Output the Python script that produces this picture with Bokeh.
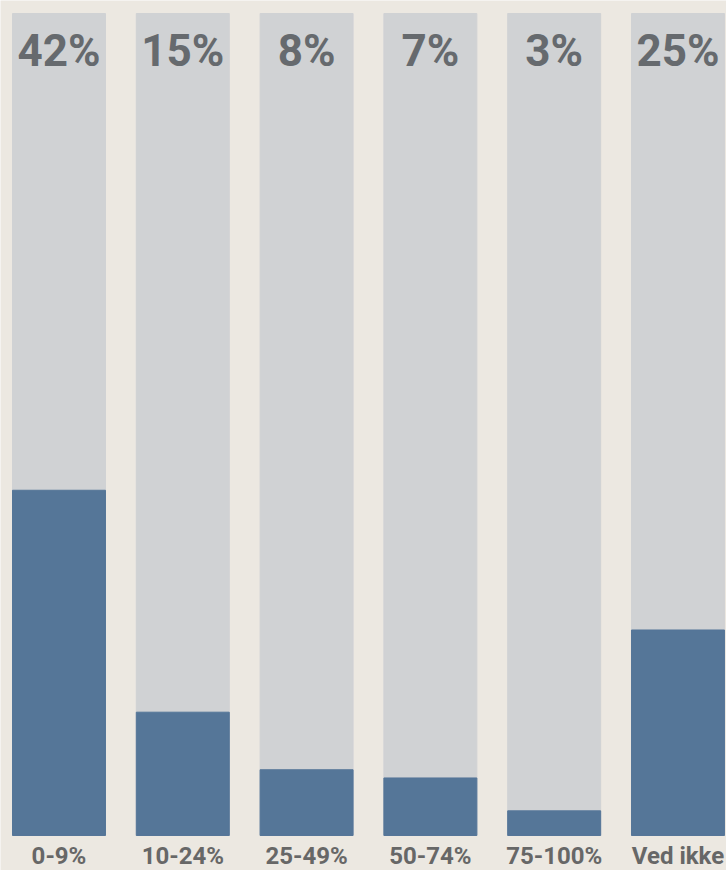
from bokeh.plotting import figure
from bokeh.models import ColumnDataSource, Range1d
from bokeh.core.properties import value
from bokeh.embed import file_html
from bokeh.resources import INLINE

categories = ["0-9%", "10-24%", "25-49%", "50-74%", "75-100%", "Ved ikke"]
shares = [42, 15, 8, 7, 3, 25]

BG = "#ece8e1"
TRACK = "#d0d2d4"
BLUE = "#557698"
TEXT = "#666a6e"
FONT = "Roboto"

xs = list(range(len(categories)))
src = ColumnDataSource(dict(
    x=xs,
    cat=categories,
    share=shares,
    full=[100] * len(shares),
    label=[f"{v}%" for v in shares],
))

p = figure(width=726, height=870, output_backend="svg", toolbar_location=None,
           x_range=Range1d(-0.4725, 5.392), y_range=Range1d(-4.258, 101.58),
           min_border=0, background_fill_color=BG, border_fill_color=BG,
           outline_line_color=None)
p.axis.visible = False
p.grid.visible = False

# grey track for each bar (100 %), then the share on top of it
p.vbar(x="x", top="full", bottom=0, width=0.751, color=TRACK, source=src)
p.vbar(x="x", top="share", bottom=0, width=0.751, color=BLUE, source=src)

# value labels at the top of each track
p.text(x="x", y=95.4, text="label", source=src, text_align="center",
       text_baseline="middle", text_font=value(FONT), text_font_style="bold",
       text_font_size="44px", text_color=TEXT)

# category labels beneath the bars
p.text(x="x", y=-2.45, text="cat", source=src, text_align="center",
       text_baseline="middle", text_font=value(FONT), text_font_style="bold",
       text_font_size="24px", text_color="#676767")

open("out.html", "w").write(file_html(p, INLINE))
